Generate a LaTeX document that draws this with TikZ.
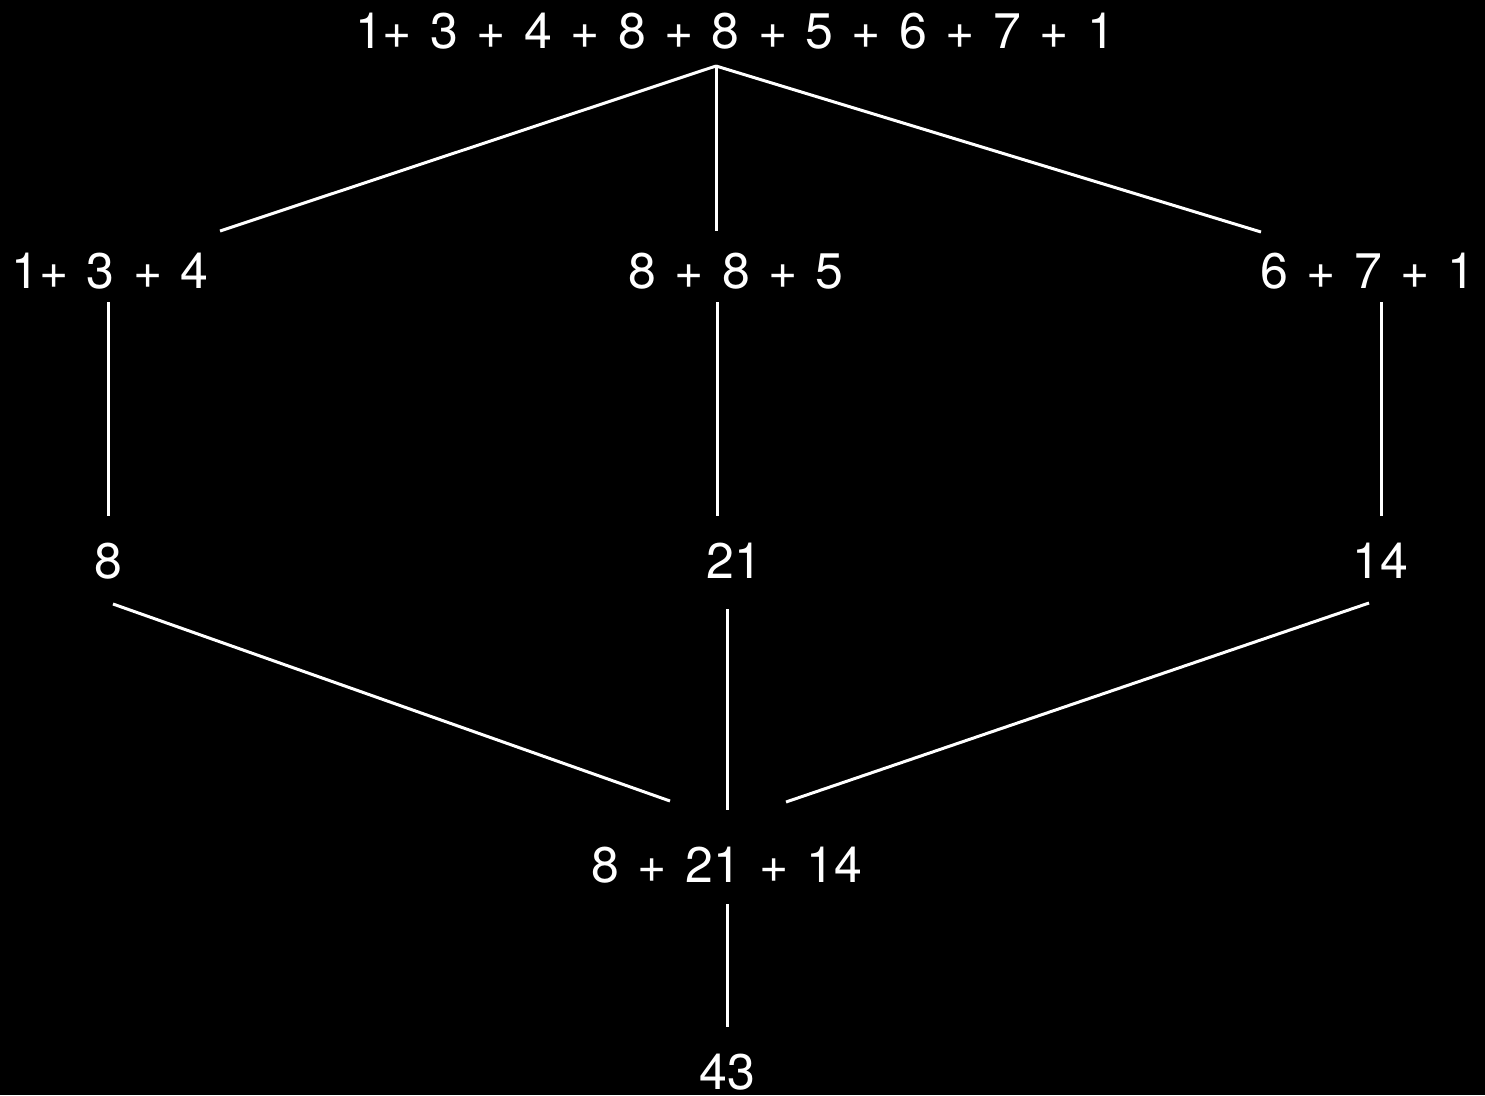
\documentclass[tikz,border=0pt]{standalone}
\usepackage{fontspec}
\setmainfont{TeX Gyre Heros}
\newcommand\mylblfont{\fontsize{50}{60}\selectfont\spaceskip=18.4pt plus 0pt minus 0pt\relax}
\begin{document}
\begin{tikzpicture}[x=1pt,y=-1pt,
  lbl/.style={text=white,anchor=base,inner sep=0pt,font=\mylblfont},
  conn/.style={draw=white,line width=3pt}]
\fill[black] (0,0) rectangle (1485,1095);
\useasboundingbox (0,0) rectangle (1485,1095);
% nodes
\node[lbl] (top) at (735,48) {1+ 3 + 4 + 8 + 8 + 5 + 6 + 7 + 1};
\node[lbl] (a) at (110,288) {1+ 3 + 4};
\node[lbl] (b) at (736,288) {8 + 8 + 5};
\node[lbl] (c) at (1368,288) {6 + 7 + 1};
\node[lbl] (a2) at (108,578) {8};
\node[lbl] (b2) at (734,578) {21};
\node[lbl] (c2) at (1380,578) {14};
\node[lbl] (sum) at (727,882) {8 + 21 + 14};
\node[lbl] (res) at (727,1089) {43};
% connector end points
\coordinate (topS) at (716,66);
\coordinate (aN) at (220,231);
\coordinate (bN) at (716,231);
\coordinate (cN) at (1261,232);
\coordinate (aS) at (108,302);
\coordinate (a2N) at (108,516);
\coordinate (bS) at (717,302);
\coordinate (b2N) at (717,516);
\coordinate (cS) at (1381,302);
\coordinate (c2N) at (1381,516);
\coordinate (a2S) at (113,604);
\coordinate (b2S) at (727,609);
\coordinate (c2S) at (1369,603);
\coordinate (sumNL) at (670,801);
\coordinate (sumN) at (727,810);
\coordinate (sumNR) at (786,802);
\coordinate (sumS) at (727,904);
\coordinate (resN) at (727,1027);
% connectors
\draw[conn] (topS) -- (aN);
\draw[conn] (topS) -- (bN);
\draw[conn] (topS) -- (cN);
\draw[conn] (aS) -- (a2N);
\draw[conn] (bS) -- (b2N);
\draw[conn] (cS) -- (c2N);
\draw[conn] (a2S) -- (sumNL);
\draw[conn] (b2S) -- (sumN);
\draw[conn] (c2S) -- (sumNR);
\draw[conn] (sumS) -- (resN);
\end{tikzpicture}
\end{document}
